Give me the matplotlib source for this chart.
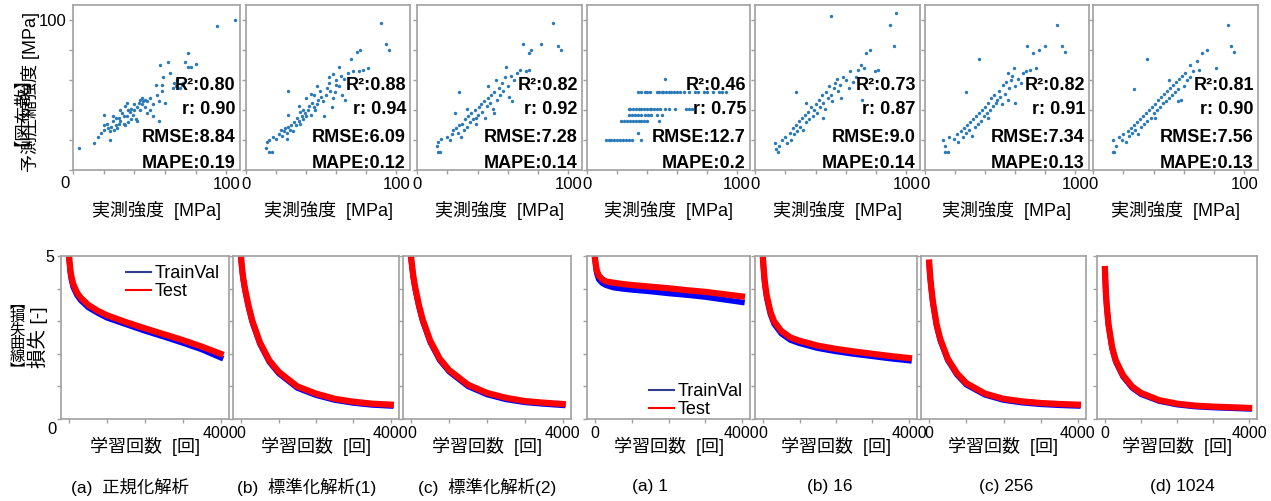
import matplotlib
matplotlib.use('Agg')
import matplotlib.pyplot as plt
from matplotlib.lines import Line2D

plt.rcParams['font.family'] = ['Liberation Sans', 'Noto Sans CJK JP']

W, H = 1271, 501

# ---- scatter data (measured vs predicted strength) ----
x1 = [4,14,16,18,20,20,22,24,24,25,26,27,28,28,20,30,30,31,32,33,34,35,35,36,37,38,39,40,41,42,43,44,45,46,47,48,48,50,52,54,55,56,56,57,58,58,59,60,62,63,65,66,67,68,70,71,72,73,75,75,77,80,94,106,29,33,36,38,40,42,44,45,47,50,52,34,26,23,31]
y1 = [15,18,22,25,27,30,31,20,26,29,33,27,30,35,37,31,35,33,38,36,43,45,36,32,39,41,37,40,34,33,45,47,44,46,42,38,46,48,44,57,50,46,33,70,53,57,62,45,72,65,55,58,56,60,55,57,58,72,78,69,69,71,96,100,28,31,40,34,44,42,40,48,47,40,36,30,36,28,40]

x2 = [13,15,17,14,15,18,20,22,23,25,24,27,26,28,29,30,31,27,32,33,34,35,36,37,38,39,40,36,41,42,40,43,44,45,46,47,48,45,47,49,50,51,52,53,54,55,56,57,58,59,60,60,62,63,64,65,66,62,68,70,71,74,75,76,78,81,90,93,95,28,28,35,38,43,55,58]
y2 = [15,12,12,19,20,22,21,24,27,26,23,25,28,29,27,30,26,21,32,30,35,33,31,36,34,38,36,39,40,43,48,37,45,42,40,44,47,50,56,53,49,46,36,50,55,58,53,42,48,52,60,57,56,63,50,61,47,69,65,74,66,79,66,80,67,68,98,84,80,53,37,43,40,51,62,64]

x3 = [13,14,15,14,16,20,22,23,24,26,27,28,29,30,31,32,33,34,35,36,37,38,39,40,41,42,43,44,45,46,47,48,49,50,51,52,53,54,55,56,57,58,59,60,61,62,63,64,66,68,70,72,74,74,75,82,90,93,95,28,25,33,47,51,39]
y3 = [16,12,12,19,21,22,20,24,27,28,25,30,22,31,27,34,29,36,32,38,34,40,31,37,42,44,39,46,35,43,48,45,50,41,52,60,47,55,50,58,53,62,69,56,49,63,46,60,65,67,84,66,67,78,80,84,98,83,80,52,38,41,56,38,35]

x4 = [52,
      34,36,39,40,42,47,48,50,51,53,55,56,58,60,62,65,68,72,74,78,80,84,88,90,93,
      28,29,31,33,35,36,38,40,42,43,45,47,49,52,55,59,66,68,70,
      28,30,32,34,36,39,41,43,47,50,
      23,25,27,29,31,33,35,36,38,40,48,
      34,
      13,15,16,18,20,22,24,26,28,30,36]
y4 = [61,
      52,52,52,52,52,52,52,52,52,52,52,52,52,52,52,52,52,52,52,52,52,52,52,52,52,
      41,41,41,41,41,41,41,41,41,41,41,41,41,41,41,41,41,41,41,
      37,37,37,37,37,37,37,37,37,37,
      33,33,33,33,33,33,33,33,33,33,33,
      25,
      20,20,20,20,20,20,20,20,20,20,20]

x5 = [13,14,15,16,18,20,21,23,24,25,26,27,28,29,30,31,32,33,34,35,36,37,38,39,40,41,42,43,44,45,46,47,48,49,50,51,52,53,54,55,56,57,58,60,62,63,65,67,68,70,71,72,73,76,81,79,89,92,93,50,27,34,45]
y5 = [18,14,12,16,20,22,18,25,20,28,24,30,26,33,29,35,27,37,32,39,34,42,36,40,44,38,47,42,50,45,41,52,48,56,50,46,55,58,61,53,57,48,62,60,55,66,59,62,67,70,47,68,78,80,67,66,97,83,105,103,52,45,35]

x6 = [12,13,15,13,16,19,21,22,24,25,26,27,28,29,30,31,32,33,34,35,36,37,38,39,40,41,42,43,44,45,46,47,48,49,50,51,52,53,54,55,56,57,58,59,60,62,64,65,67,68,70,72,74,76,80,88,91,93,36,27,42,55,60]
y6 = [20,12,12,16,22,21,24,19,26,22,28,25,30,27,32,23,34,29,36,31,38,33,40,36,42,38,45,40,48,43,50,45,47,53,49,44,57,51,59,47,55,60,63,68,56,61,58,65,66,83,67,78,68,80,83,97,83,79,74,52,35,65,45]

x7 = [13,14,13,15,17,19,20,22,23,24,25,26,27,28,29,30,31,32,33,34,35,36,37,38,39,40,41,42,43,44,45,46,47,48,49,50,51,52,53,54,55,56,57,58,59,60,61,62,64,66,69,70,72,75,81,89,91,93,36,27,41,50,56,64]
y7 = [12,12,20,16,22,20,24,19,26,23,28,25,30,27,32,24,34,29,36,31,38,33,40,35,42,38,44,40,47,42,49,45,51,46,53,48,55,50,57,52,59,54,61,47,63,56,65,60,62,66,73,67,78,80,68,97,83,79,74,54,35,60,46,70]

r2_vals = ['0.80', '0.88', '0.82', '0.46', '0.73', '0.82', '0.81']
r_vals = ['0.90', '0.94', '0.92', '0.75', '0.87', '0.91', '0.90']
rmse_vals = ['8.84', '6.09', '7.28', '12.7', '9.0', '7.34', '7.56']
mape_vals = ['0.19', '0.12', '0.14', '0.2', '0.14', '0.13', '0.13']

# ---- loss curves (sampled along the training) ----
iters = [0, 25, 50, 100, 200, 300, 500, 750, 1000, 1500, 2000, 2500, 3000, 3500, 4000]
test1 = [4.9, 4.6, 4.4, 4.15, 3.88, 3.72, 3.5, 3.32, 3.18, 2.97, 2.78, 2.6, 2.42, 2.22, 2.0]
train1 = [4.85, 4.5, 4.3, 4.05, 3.8, 3.64, 3.42, 3.25, 3.1, 2.9, 2.7, 2.52, 2.33, 2.13, 1.88]
test2 = [4.9, 4.6, 4.35, 4.0, 3.45, 3.0, 2.35, 1.8, 1.45, 1.0, 0.78, 0.62, 0.53, 0.47, 0.44]
train2 = [4.85, 4.55, 4.3, 3.95, 3.4, 2.95, 2.3, 1.75, 1.4, 0.95, 0.73, 0.58, 0.49, 0.43, 0.4]
test3 = [4.9, 4.65, 4.4, 4.05, 3.5, 3.05, 2.4, 1.85, 1.5, 1.05, 0.8, 0.65, 0.55, 0.5, 0.46]
train3 = [4.85, 4.6, 4.35, 4.0, 3.45, 3.0, 2.35, 1.8, 1.45, 1.0, 0.75, 0.6, 0.51, 0.46, 0.42]
test4 = [4.9, 4.7, 4.55, 4.4, 4.28, 4.22, 4.18, 4.14, 4.11, 4.06, 4.01, 3.95, 3.9, 3.83, 3.76]
train4 = [4.9, 4.6, 4.45, 4.28, 4.16, 4.1, 4.03, 3.99, 3.96, 3.91, 3.85, 3.8, 3.74, 3.66, 3.58]
test5 = [4.9, 4.5, 4.2, 3.8, 3.3, 3.0, 2.7, 2.5, 2.4, 2.25, 2.15, 2.07, 2.0, 1.93, 1.87]
train5 = [4.85, 4.42, 4.12, 3.72, 3.22, 2.92, 2.62, 2.42, 2.32, 2.17, 2.07, 1.99, 1.92, 1.85, 1.79]
test6 = [4.8, 4.4, 4.1, 3.6, 2.9, 2.45, 1.85, 1.4, 1.1, 0.78, 0.62, 0.54, 0.49, 0.46, 0.44]
train6 = [4.75, 4.35, 4.05, 3.55, 2.85, 2.4, 1.8, 1.35, 1.05, 0.74, 0.58, 0.5, 0.45, 0.42, 0.4]
test7 = [4.6, 3.9, 3.5, 2.9, 2.2, 1.8, 1.35, 1.0, 0.8, 0.58, 0.47, 0.41, 0.38, 0.36, 0.34]
train7 = [4.55, 3.85, 3.45, 2.85, 2.15, 1.75, 1.3, 0.96, 0.76, 0.55, 0.44, 0.38, 0.35, 0.33, 0.31]

captions = ['(a)  正規化解析', '(b)  標準化解析(1)', '(c)  標準化解析(2)',
            '(a) 1', '(b) 16', '(c) 256', '(d) 1024']

scatter_x = [x1, x2, x3, x4, x5, x6, x7]
scatter_y = [y1, y2, y3, y4, y5, y6, y7]
loss_test = [test1, test2, test3, test4, test5, test6, test7]
loss_train = [train1, train2, train3, train4, train5, train6, train7]

# panel boxes in pixels (left, right)
top_lr = [(73, 240), (246, 410), (417, 582), (587, 750), (755, 920), (925, 1089), (1093, 1258)]
bot_lr = [(61, 229), (233, 399), (403, 571), (587, 750), (755, 917), (921, 1086), (1097, 1257)]
cap_x = [130, 307, 487, 650, 830, 1006, 1182]

fig = plt.figure(figsize=(W / 100, H / 100), dpi=100)


def add_ax(l, t, r, b):
    return fig.add_axes([l / W, 1 - b / H, (r - l) / W, (b - t) / H])


def style(ax, fs):
    for s in ax.spines.values():
        s.set_color('#a0a0a0')
        s.set_linewidth(1.2)
    ax.tick_params(color='#a0a0a0', length=3, width=1, labelsize=fs, pad=2)


def ftext(x, y, s, **kw):
    fig.text(x / W, 1 - y / H, s, **kw)


for i in range(7):
    l, r = top_lr[i]
    ax = add_ax(l, 5, r, 170)
    style(ax, 12)
    ax.scatter(scatter_x[i], scatter_y[i], s=6, color='#2a7ab9', linewidths=0)
    ax.set_xlim(0, 109)
    ax.set_ylim(0, 110)
    ax.set_xticks([0, 20, 40, 60, 80, 100])
    ax.set_yticks([0, 20, 40, 60, 80, 100])
    if i == 0:
        ax.set_xticklabels(['', '', '', '', '', '100'])
        ax.set_yticklabels(['', '', '', '', '', '100'])
        ftext(65, 183, '0', fontsize=12, ha='center', va='center')
    else:
        ax.set_xticklabels(['0', '', '', '', '', '100'])
        ax.set_yticklabels([])
    stats = ['R²:' + r2_vals[i], 'r: ' + r_vals[i], 'RMSE:' + rmse_vals[i], 'MAPE:' + mape_vals[i]]
    for k, yy in enumerate([0.515, 0.364, 0.194, 0.042]):
        ax.text(0.975, yy, stats[k], transform=ax.transAxes, ha='right', va='center',
                fontsize=13, fontweight='bold')
    ftext((l + r) / 2, 211, '実測強度  [MPa]', fontsize=13, ha='center', va='center')

    l, r = bot_lr[i]
    ax = add_ax(l, 256, r, 419)
    style(ax, 11.5)
    ax.plot(iters, loss_train[i], color='#0000ff', lw=4)
    ax.plot(iters, loss_test[i], color='#ff0000', lw=4.5)
    ax.set_xlim(-220, 4220)
    ax.set_ylim(0, 5)
    ax.set_xticks([0, 1000, 2000, 3000, 4000])
    ax.set_yticks([0, 1, 2, 3, 4, 5])
    if i == 0:
        ax.set_xticklabels(['', '', '', '', '4000'])
        ax.set_yticklabels(['', '', '', '', '', '5'])
        ftext(52, 429, '0', fontsize=12, ha='center', va='center')
    else:
        ax.set_xticklabels(['0', '', '', '', '4000'])
        ax.set_yticklabels([])
    if i == 0:
        handles = [Line2D([], [], color='#2f3f8f', lw=1.5), Line2D([], [], color='#ff0000', lw=1.5)]
        ax.legend(handles, ['TrainVal', 'Test'], loc='upper right', frameon=False, fontsize=13,
                  handlelength=1.4, handletextpad=0.2, labelspacing=0.05, borderaxespad=0.1)
    if i == 3:
        handles = [Line2D([], [], color='#2f3f8f', lw=1.5), Line2D([], [], color='#ff0000', lw=1.5)]
        ax.legend(handles, ['TrainVal', 'Test'], loc='lower right', frameon=False, fontsize=13,
                  handlelength=1.4, handletextpad=0.2, labelspacing=0.05, borderaxespad=0.0,
                  bbox_to_anchor=(1.0, -0.04))
    ftext((l + r) / 2, 446, '学習回数  [回]', fontsize=13, ha='center', va='center')
    ftext(cap_x[i], 487, captions[i], fontsize=12.5, ha='center', va='center')

# y-axis labels (overlapping, as in the source figure)
ftext(13, 103, '【図布散】', fontsize=12.5, rotation=90, ha='center', va='center')
ftext(30, 92, '予測圧縮強度 [MPa]', fontsize=13, rotation=90, ha='center', va='center')
ftext(17, 337, '︻\n損\n失\n曲\n線\n︼', fontsize=11, ha='center', va='center', linespacing=0.95)
ftext(38, 337, '損失 [-]', fontsize=14, rotation=90, ha='center', va='center')

fig.savefig('out.png', dpi=100)
